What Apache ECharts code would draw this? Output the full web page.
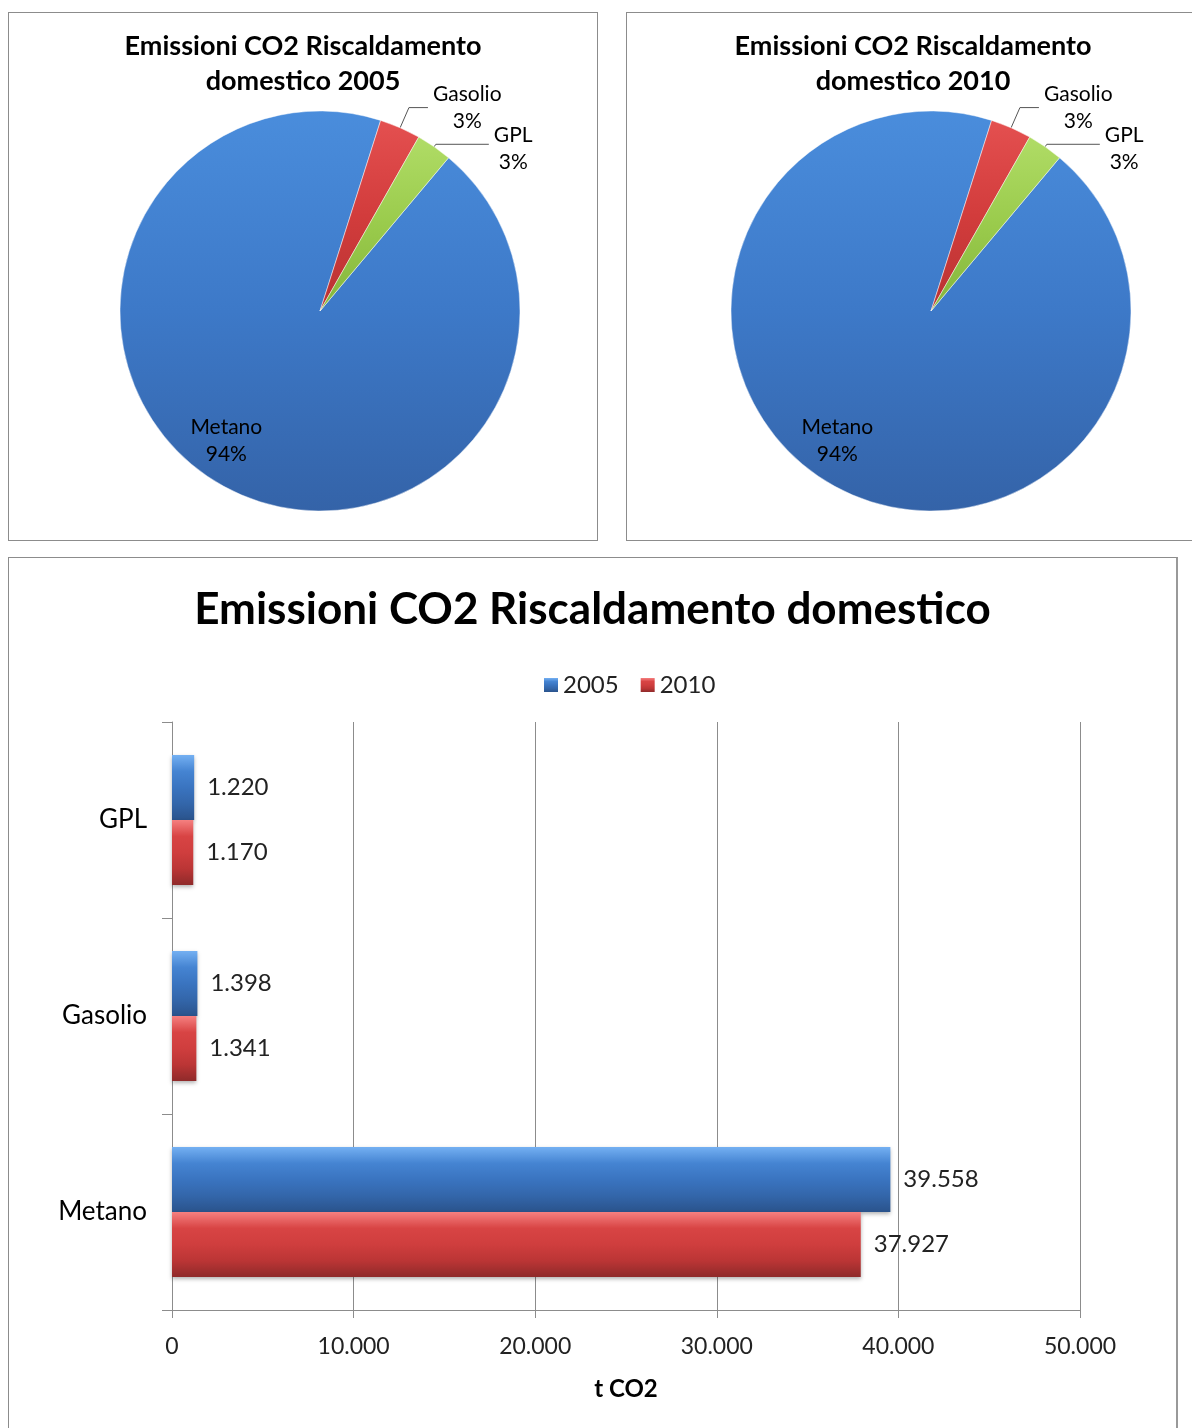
<!DOCTYPE html>
<html>
<head>
<meta charset="utf-8">
<script src="https://cdn.jsdelivr.net/npm/echarts@6/dist/echarts.min.js"></script>
<style>
  body { margin: 0; background: #fff; width: 1192px; height: 1428px; overflow: hidden; position: relative; }
  .box { position: absolute; border: 1px solid #8c8c8c; box-sizing: border-box; background: #fff; }
  #pie2005 { left: 8px; top: 12px; width: 590px; height: 529px; }
  #pie2010 { left: 626px; top: 12px; width: 574px; height: 529px; }
  #barChart { left: 8px; top: 557px; width: 1170px; height: 890px; border-right: 2px solid #999; }
</style>
</head>
<body>
<div id="pie2005" class="box"></div>
<div id="pie2010" class="box"></div>
<div id="barChart" class="box"></div>
<script>
// dati (t CO2)
const categories = ['Metano', 'Gasolio', 'GPL'];
const values2005 = [39558, 1398, 1220];
const values2010 = [37927, 1341, 1170];
const years = ['2005', '2010'];
const xMax = 50000;
const xStep = 10000;

const FONT = 'Lato';
const fmt = v => String(v).replace(/\B(?=(\d{3})+(?!\d))/g, '.');

const grad = stops => new echarts.graphic.LinearGradient(0, 0, 0, 1,
  stops.map((c, i) => ({offset: i / (stops.length - 1), color: c})));

const blueBar = grad(['#74b0f2', '#4584d2', '#3a74c0', '#3366aa', '#2a538c']);
const redBar = grad(['#f58080', '#d84444', '#cf3e3e', '#bb3535', '#8f2a2a']);
const pieColors = [
  grad(['#4a8ddc', '#3d79c8', '#3463a8']),
  grad(['#e45050', '#d23c3c', '#b83232']),
  grad(['#b0dc66', '#9acb4c', '#84b53c'])
];
// lunghezza linee guida delle etichette esterne (Metano ha l'etichetta interna)
const lineLen = [null, [22, 19], [3, 53]];

function pieOption(title, values, center) {
  return {
    animation: false,
    title: {
      text: title,
      left: 'center',
      top: 11,
      textStyle: {fontFamily: FONT, fontWeight: 'bold', fontSize: 27, lineHeight: 35, color: '#000'}
    },
    series: [{
      type: 'pie',
      center: center,
      radius: 200,
      startAngle: 50,
      clockwise: true,
      percentPrecision: 0,
      avoidLabelOverlap: false,
      itemStyle: {borderColor: 'rgba(255,255,255,0.45)', borderWidth: 1},
      label: {
        show: true,
        position: 'outside',
        formatter: '{t|{b}}\n{t|{d}%}',
        rich: {t: {fontFamily: FONT, fontSize: 21, lineHeight: 27, color: '#000', align: 'center'}}
      },
      labelLine: {show: true, lineStyle: {color: '#555', width: 1}},
      labelLayout: params => {
        if (params.dataIndex === 0) return {dx: -44, dy: 39};
        if (params.dataIndex === 2) return {dy: 4};
        return {};
      },
      data: categories.map((name, i) => ({
        name: name,
        value: values[i],
        itemStyle: {color: pieColors[i]},
        label: i === 0 ? {position: 'inside'} : undefined,
        labelLine: i === 0 ? {show: false} : {length: lineLen[i][0], length2: lineLen[i][1]}
      }))
    }]
  };
}

const pie1 = echarts.init(document.getElementById('pie2005'));
pie1.setOption(pieOption('Emissioni CO2 Riscaldamento\ndomestico 2005', values2005, [311, 298]));

const pie2 = echarts.init(document.getElementById('pie2010'));
pie2.setOption(pieOption('Emissioni CO2 Riscaldamento\ndomestico 2010', values2010, [304, 298]));

const barLabel = {
  show: true,
  position: 'right',
  distance: 13,
  formatter: p => fmt(p.value),
  fontFamily: FONT,
  fontSize: 24,
  color: '#222'
};

const bar = echarts.init(document.getElementById('barChart'));
bar.setOption({
  animation: false,
  title: {
    text: 'Emissioni CO2 Riscaldamento domestico',
    left: 'center',
    top: 25,
    textStyle: {fontFamily: FONT, fontWeight: 'bold', fontSize: 44, color: '#000'}
  },
  legend: {
    data: years,
    left: 530,
    top: 110,
    icon: 'rect',
    itemWidth: 14,
    itemHeight: 14,
    itemGap: 22,
    textStyle: {fontFamily: FONT, fontSize: 24, color: '#222'}
  },
  grid: {left: 163, top: 164, width: 908, height: 588},
  xAxis: {
    type: 'value',
    min: 0,
    max: xMax,
    interval: xStep,
    name: 't CO2',
    nameLocation: 'middle',
    nameGap: 67,
    nameTextStyle: {fontFamily: FONT, fontWeight: 'bold', fontSize: 24, color: '#000'},
    axisLine: {show: true, lineStyle: {color: '#8c8c8c'}},
    axisTick: {show: true, length: 8, lineStyle: {color: '#8c8c8c'}},
    axisLabel: {formatter: fmt, fontFamily: FONT, fontSize: 23, margin: 25, color: '#222'},
    splitLine: {show: true, lineStyle: {color: '#8c8c8c'}}
  },
  yAxis: {
    type: 'category',
    data: categories,
    axisLine: {show: true, lineStyle: {color: '#8c8c8c'}},
    axisTick: {show: true, length: 10, lineStyle: {color: '#8c8c8c'}},
    axisLabel: {fontFamily: FONT, fontSize: 26, margin: 25, color: '#000'}
  },
  series: [
    {
      name: years[0],
      type: 'bar',
      data: values2005,
      barWidth: 65,
      barGap: '0%',
      itemStyle: {color: blueBar, shadowColor: 'rgba(0,0,0,0.3)', shadowBlur: 4, shadowOffsetY: 2},
      label: barLabel
    },
    {
      name: years[1],
      type: 'bar',
      data: values2010,
      barWidth: 65,
      barGap: '0%',
      itemStyle: {color: redBar, shadowColor: 'rgba(0,0,0,0.3)', shadowBlur: 4, shadowOffsetY: 2},
      label: barLabel
    }
  ]
});
</script>
</body>
</html>
